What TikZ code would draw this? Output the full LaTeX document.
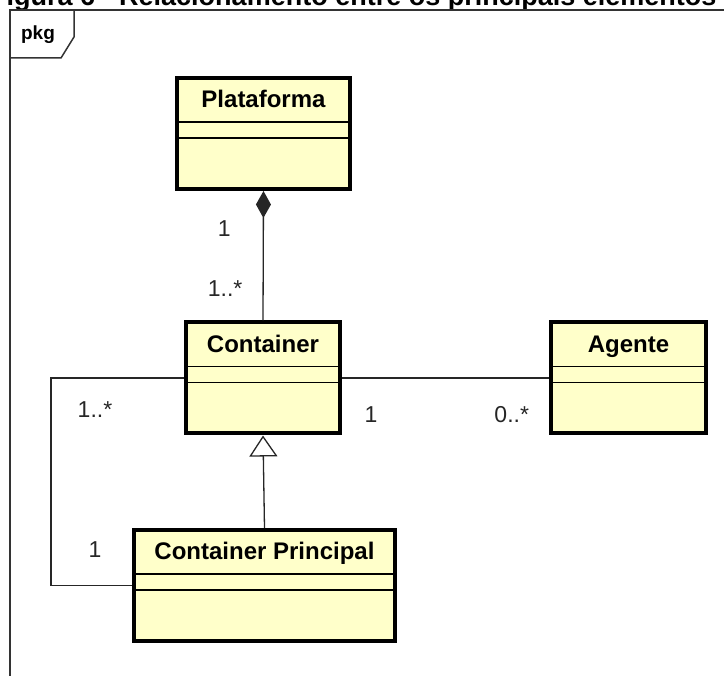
\documentclass[tikz,border=0pt]{standalone}
\usepackage{fontspec}
\setmainfont{Liberation Sans}
\usetikzlibrary{arrows.meta}
\definecolor{umlfill}{RGB}{255,255,202}

\begin{document}
\begin{tikzpicture}[
  x=1pt, y=-1pt,
  font=\fontsize{23}{26}\selectfont,
  cls/.style={rectangle, draw=black, line width=4pt, fill=umlfill,
              minimum width=#1, inner xsep=0pt, inner ysep=0pt,
              text height=30pt, text depth=81pt, font=\fontsize{24}{28}\selectfont\bfseries,
              path picture={
                \draw[line width=1.5pt]
                  ([yshift=-44pt]path picture bounding box.north west) -- ([yshift=-44pt]path picture bounding box.north east)
                  ([yshift=-60pt]path picture bounding box.north west) -- ([yshift=-60pt]path picture bounding box.north east);
              }},
  mult/.style={text=black!85, inner sep=0pt},
  line/.style={draw=black!85, line width=1.3pt},
  comp/.style={line, -{Diamond[length=27pt, width=15pt]}},
  gen/.style={line, -{Triangle[length=21pt, width=28pt, fill=white]}},
  frame/.style={draw=black!80, line width=1.5pt},
  title/.style={font=\fontsize{27}{30}\selectfont\bfseries, inner sep=0pt}
]
\useasboundingbox (0,0) rectangle (724,676);
\clip (0,0) rectangle (724,676);

% caption, cut off at the top
\node[title, anchor=base west] (title) at (-10,6) {Figura 6 - Relacionamento entre os principais elementos};

% package frame
\draw[frame] (10,700) -- (10,10) -- (740,10);
\draw[frame] (74,10) -- (74,37) -- (61,58) -- (10,58);
\node[font=\fontsize{19}{22}\selectfont\bfseries] (pkg) at (38,35) {pkg};

% classes
\node[cls=173] (plat) at (263.5,133.5) {Plataforma};
\node[cls=154] (cont) at (263,378)   {Container};
\node[cls=155] (agt)  at (628.5,378) {Agente};
\node[cls=261] (prin) at (264.5,585.5) {Container Principal};

\coordinate (loop) at (51,480);

% relations
\draw[comp] (cont.north) -- node[mult, pos=0.25, xshift=-38pt]{1..*}
                           node[mult, pos=0.71, xshift=-39pt]{1} (plat.south);
\draw[line] (cont) -- node[mult, pos=0.14, yshift=-37pt]{1}
                      node[mult, pos=0.82, yshift=-37pt]{0..*} (agt);
\draw[line] (cont.west) -| (loop) |- (prin.west);
\node[mult] (m1) at (95,410) {1..*};
\node[mult] (m2) at (95,550) {1};
\draw[gen] (prin.north) -- (cont.south);
\end{tikzpicture}
\end{document}
